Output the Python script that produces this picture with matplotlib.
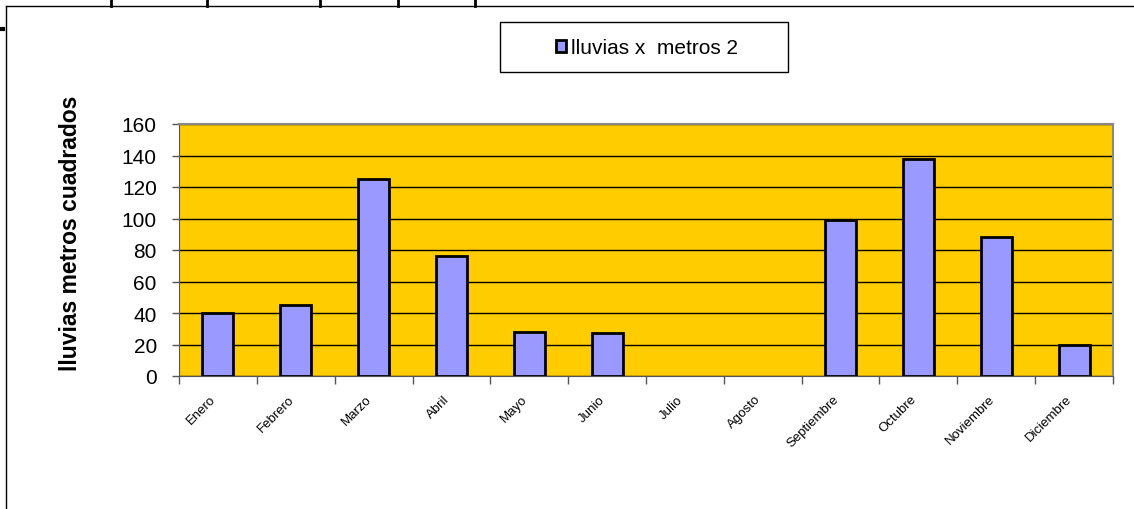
import matplotlib.pyplot as plt
import numpy as np
from matplotlib.lines import Line2D
from matplotlib.patches import Rectangle
from matplotlib.transforms import ScaledTranslation

# monthly rain data
meses = ["Enero", "Febrero", "Marzo", "Abril", "Mayo", "Junio", "Julio",
         "Agosto", "Septiembre", "Octubre", "Noviembre", "Diciembre"]
lluvias = [40, 45, 125, 76, 28, 27, 0, 0, 99, 138, 88, 20]
y_ticks = [0, 20, 40, 60, 80, 100, 120, 140, 160]

plt.rcParams['font.family'] = ['Liberation Sans', 'DejaVu Sans']

W, H = 1134, 510
fig = plt.figure(figsize=(W / 100, H / 100), dpi=100)

# plot area in pixels: x 179..1113, y 125..377
ax = fig.add_axes([179 / W, 1 - 377 / H, (1113 - 179) / W, (377 - 125) / H])
ax.set_facecolor("#ffcc00")

x = np.arange(len(meses))
# empty months get no outline
edges = ["black" if v > 0 else "none" for v in lluvias]
ax.bar(x, lluvias, width=0.4, color="#9999ff", edgecolor=edges,
       linewidth=2, zorder=3, label="lluvias x  metros 2")

ax.set_xlim(-0.5, len(meses) - 0.5)
ax.set_ylim(0, 160)
ax.set_yticks(y_ticks)
ax.set_yticklabels([str(v) for v in y_ticks], fontsize=15)
ax.yaxis.grid(True, color="black", linewidth=1, zorder=1)
ax.tick_params(axis="y", direction="out", length=5, width=1, color="#555555", pad=11)

# category ticks at boundaries, labels at centres
ax.set_xticks(np.arange(len(meses) + 1) - 0.5)
ax.set_xticklabels([])
ax.set_xticks(x, minor=True)
ax.set_xticklabels(meses, minor=True, rotation=45, ha="right",
                   rotation_mode="anchor", fontsize=9.5)
ax.tick_params(axis="x", which="major", direction="out", length=6, width=1, color="#555555")
ax.tick_params(axis="x", which="minor", length=0, pad=10)
shift = ScaledTranslation(-8 / 100, -3 / 100, fig.dpi_scale_trans)
for lbl in ax.get_xticklabels(minor=True):
    lbl.set_transform(lbl.get_transform() + shift)

for side in ["top", "right"]:
    ax.spines[side].set_color("#888888")
    ax.spines[side].set_linewidth(1.5)
ax.spines["left"].set_color("#555555")
ax.spines["bottom"].set_color("#555555")

ax.set_ylabel("lluvias metros cuadrados", fontsize=16.5, fontweight="bold")
ax.yaxis.set_label_coords((82 - 179) / 934, (377 - 233.5) / 252)

# legend box drawn by hand so its size matches
fig.add_artist(Rectangle((500 / W, 1 - 73 / H), 288 / W, 50 / H, transform=fig.transFigure,
                         facecolor="white", edgecolor="black", linewidth=1, zorder=4))
handles, labels = ax.get_legend_handles_labels()
leg = fig.legend(handles, labels, loc="center", bbox_to_anchor=(647 / W, 1 - 49 / H),
                 bbox_transform=fig.transFigure, fontsize=15, frameon=False,
                 handlelength=0.5, handleheight=0.5, handletextpad=0.25,
                 borderpad=0, borderaxespad=0)
leg.set_zorder(6)

# spreadsheet-like borders around the chart
def fline(xs, ys, lw):
    fig.add_artist(Line2D([v / W for v in xs], [1 - v / H for v in ys],
                          color="black", linewidth=lw, transform=fig.transFigure))

fline([6, W], [7, 7], 1)
fline([6, 6], [7, H], 1)
for xv in [111, 207, 320, 398, 475]:
    fline([xv, xv], [0, 7], 2)
fline([0, 3], [30, 30], 3)

fig.savefig("out.png", dpi=100)
